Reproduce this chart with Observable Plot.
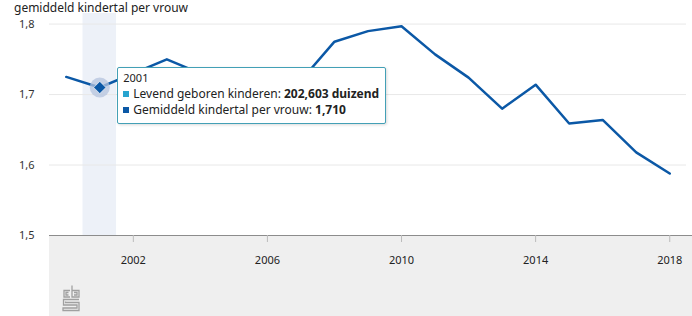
<!DOCTYPE html>
<html><head><meta charset="utf-8">
<script src="https://cdn.jsdelivr.net/npm/d3@7"></script>
<script src="https://cdn.jsdelivr.net/npm/@observablehq/plot@0.6"></script>
<style>
html,body{margin:0;padding:0;background:#fff;}
#wrap{position:relative;width:692px;height:316px;overflow:hidden;font-family:"Noto Sans",sans-serif;color:#222;}
#grey{position:absolute;left:49px;top:235px;right:0;bottom:0;background:#efefef;border-top:1px solid #8c8c8c;}
#title{position:absolute;left:14px;top:1px;font-size:12px;line-height:14px;color:#222;white-space:nowrap;}
#chart{position:absolute;left:0;top:0;}
#tip{position:absolute;box-sizing:border-box;width:269px;height:57px;background:#fff;border:1.5px solid #43a0b6;border-radius:2px;box-shadow:1px 1px 3px rgba(0,0,0,0.15);padding:3px 0 0 5px;font-size:12px;line-height:17px;white-space:nowrap;}
#tip .yr{font-size:11px;line-height:14px;}
#tip .row{height:16px;}
#tip .sq{display:inline-block;width:6px;height:6px;margin-right:4px;vertical-align:1px;}
#logo{position:absolute;left:0;top:0;}
</style>
</head><body>
<div id="wrap">
  <div id="grey"></div>
  <div id="chart"></div>
  <div id="title"></div>
  <svg id="logo" width="692" height="316"><g fill="none" stroke="#a0a0a0" stroke-width="1.3">
    <path d="M70,290.5 H64 V297 H70 M68.5,292.5 H66 V295 H68.5"/>
    <path d="M72,285.5 V297 H79 V290.5 H72 M74,292.5 H77 V295 H74"/>
    <path d="M79,299.5 H63.5 V305 H77 V308 H63 V310.5 H79 V302.5 H65.5 V301.5"/>
  </g></svg>
  <div id="tip"></div>
</div>
<script>
const titleText = "gemiddeld kindertal per vrouw";
const years = [2000,2001,2002,2003,2004,2005,2006,2007,2008,2009,2010,2011,2012,2013,2014,2015,2016,2017,2018];
const tfr   = [1.725,1.710,1.730,1.750,1.730,1.710,1.720,1.720,1.775,1.790,1.797,1.757,1.724,1.680,1.714,1.659,1.664,1.618,1.588];
const xTicks = [2002,2006,2010,2014,2018];
const yTicks = [1.5,1.6,1.7,1.8];
const yDomain = [1.5,1.815];
const hiYear = 2001;
const tipSeries = ["Levend geboren kinderen", "Gemiddeld kindertal per vrouw"];
const tipValues = ["202,603 duizend", "1,710"];
const tipColors = ["#27a4cf", "#0b58a6"];
const lineColor = "#0b58a6";

const data = years.map((year, i) => ({year, tfr: tfr[i]}));
const hi = data.filter(d => d.year === hiYear);
const fmtY = d => d.toFixed(1).replace(".", ",");

const chart = Plot.plot({
  width: 692, height: 316,
  marginLeft: 49, marginRight: 6, marginTop: 13, marginBottom: 81,
  style: {background: "transparent", fontFamily: "Noto Sans", fontSize: "11px", color: "#222"},
  x: {type: "linear", domain: [1999.5, 2018.5], axis: null},
  y: {domain: yDomain, axis: null},
  marks: [
    Plot.rectY(hi, {x1: d => d.year - 0.5, x2: d => d.year + 0.5, y1: yDomain[0], y2: yDomain[1], fill: "#edf1f8"}),
    Plot.gridY({ticks: yTicks.slice(1), stroke: "#e8e8e8", strokeOpacity: 1}),
    Plot.axisY({ticks: yTicks, tickSize: 0, tickPadding: 15, tickFormat: fmtY, label: null, fill: "#333"}),
    Plot.axisX({ticks: xTicks, tickSize: 7, tickFormat: () => "", label: null, stroke: "#bbb"}),
    Plot.axisX({ticks: xTicks, tickSize: 0, tickPadding: 21, tickFormat: d => String(d), label: null, fill: "#222"}),
    Plot.line(data, {x: "year", y: "tfr", stroke: lineColor, strokeWidth: 2.5}),
    Plot.dot(hi, {x: "year", y: "tfr", r: 10, fill: "#b4c3de", fillOpacity: 0.75}),
    Plot.dot(hi, {x: "year", y: "tfr", symbol: "diamond2", r: 5.5, fill: lineColor, stroke: "white", strokeWidth: 0.6})
  ]
});
document.getElementById("chart").appendChild(chart);
document.getElementById("title").textContent = titleText;

const tip = document.getElementById("tip");
const px = chart.scale("x").apply(hiYear);
const py = chart.scale("y").apply(hi[0].tfr);
tip.style.left = (px + 18) + "px";
tip.style.top = (py - 20) + "px";
let html = `<div class="yr">${hiYear}</div>`;
tipSeries.forEach((s, i) => {
  html += `<div class="row"><span class="sq" style="background:${tipColors[i]}"></span>${s}: <b>${tipValues[i]}</b></div>`;
});
tip.innerHTML = html;
</script>
</body></html>
